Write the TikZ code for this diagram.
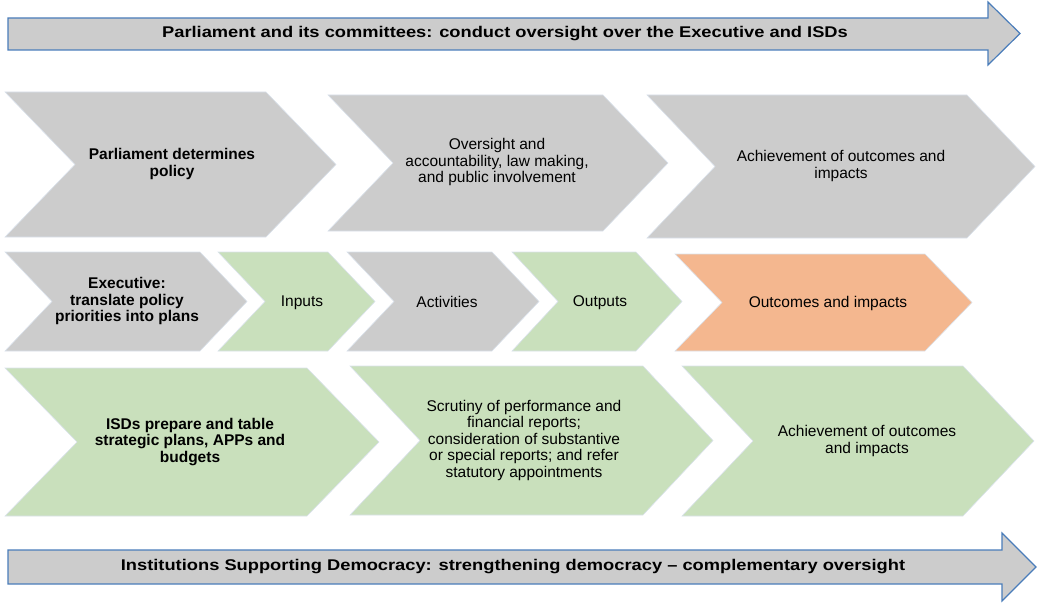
\documentclass[tikz,border=0pt]{standalone}
\usepackage{fontspec}
\setmainfont{Liberation Sans}
\newfontfamily\widebold[FakeStretch=1.18,Ligatures=TeX]{Liberation Sans Bold}
\usepackage{tikz}

\definecolor{chevgray}{HTML}{CCCCCC}
\definecolor{chevgreen}{HTML}{C9E0BC}
\definecolor{chevorange}{HTML}{F4B78F}
\definecolor{chevline}{HTML}{DAE2EC}
\definecolor{arrowline}{HTML}{4A7DBA}

% #1 style, #2 left x, #3 top-right x, #4 point depth, #5 top y, #6 bottom y
\newcommand{\chev}[6]{%
  \draw[#1] (#2,#5) -- (#3,#5) -- ({#3+#4},{(#5+#6)/2}) -- (#3,#6)
    -- (#2,#6) -- ({#2+#4},{(#5+#6)/2}) -- cycle;}

\begin{document}
\begin{tikzpicture}[x=1pt,y=-1pt,
    gray/.style={fill=chevgray,draw=chevline,line width=0.6pt},
    green/.style={fill=chevgreen,draw=chevline,line width=0.6pt},
    orange/.style={fill=chevorange,draw=chevline,line width=0.6pt},
    bigarrow/.style={fill=chevgray,draw=arrowline,line width=1.2pt,line join=miter},
    txt/.style={align=center,inner sep=0pt,font={\fontsize{15.5}{16.5}\selectfont}},
    band/.style={inner sep=0pt,font={\fontsize{15.5}{16.5}\widebold}}]
\useasboundingbox (0,0) rectangle (1054,604);

% top arrow
\draw[bigarrow] (8,18) -- (988,18) -- (988,2) -- (1020,33.5) -- (988,65)
  -- (988,50) -- (8,50) -- cycle;
\node[band] (parl) at (505,34) {Parliament and its committees: conduct oversight over the Executive and ISDs};

% row 1
\chev{gray}{5}{266}{70}{92}{237}
\chev{gray}{328}{603}{65}{95}{231}
\chev{gray}{647}{967}{68}{95}{238}
\node[txt] (policy) at (172,164) {\textbf{Parliament determines}\\\textbf{policy}};
\node[txt] (oversight) at (497,162) {Oversight and\\accountability, law making,\\and public involvement};
\node[txt] (achieve1) at (841,166) {Achievement of outcomes and\\impacts};

% row 2
\chev{gray}{5}{200}{47}{252}{351}
\chev{green}{218}{328}{47}{252}{351}
\chev{gray}{347}{492}{47}{252}{351}
\chev{green}{512}{636}{46}{252}{351}
\chev{orange}{675}{925}{47}{254}{351}
\node[txt] (exec) at (127,301) {\textbf{Executive:}\\\textbf{translate policy}\\\textbf{priorities into plans}};
\node[txt] (inputs) at (302,303) {Inputs};
\node[txt] (activities) at (447,302) {Activities};
\node[txt] (outputs) at (600,303) {Outputs};
\node[txt] (outcomes) at (828,303) {Outcomes and impacts};

% row 3
\chev{green}{5}{307}{72}{368}{516}
\chev{green}{350}{643}{70}{366}{515}
\chev{green}{682}{963}{71}{366}{516}
\node[txt] (isds) at (190,442) {\textbf{ISDs prepare and table}\\\textbf{strategic plans, APPs and}\\\textbf{budgets}};
\node[txt] (scrutiny) at (524,440) {Scrutiny of performance and\\financial reports;\\consideration of substantive\\or special reports; and refer\\statutory appointments};
\node[txt] (achieve2) at (867,441) {Achievement of outcomes\\and impacts};

% bottom arrow
\draw[bigarrow] (8,550) -- (1002,550) -- (1002,533) -- (1036,567) -- (1002,601)
  -- (1002,584) -- (8,584) -- cycle;
\node[band] (isd) at (513,567) {Institutions Supporting Democracy: strengthening democracy -- complementary oversight};
\end{tikzpicture}
\end{document}
